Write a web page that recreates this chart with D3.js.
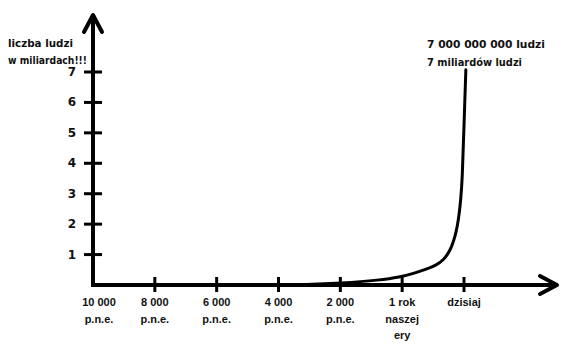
<!DOCTYPE html>
<html>
<head>
<meta charset="utf-8">
<script src="https://cdn.jsdelivr.net/npm/d3@7"></script>
<style>
  body { margin: 0; background: #fff; }
  svg { display: block; }
  .hand { font-family: "DejaVu Sans", sans-serif; font-weight: bold; fill: #111; }
  .xlab { font-family: "Liberation Sans", Arial, sans-serif; font-weight: bold; font-size: 11px; fill: #111; }
</style>
</head>
<body>
<div id="chart"></div>
<script>
// population (billions) by year
var years = [-10000, -6000, -3300, -1950, -720, -70, 360, 794, 1117, 1331, 1492, 1602, 1709, 1783, 1848, 1893, 1945, 2000, 2060];
var people = [0, 0, 0, 0.06, 0.16, 0.26, 0.38, 0.52, 0.66, 0.82, 1.04, 1.26, 1.59, 1.92, 2.36, 2.79, 3.45, 5.26, 7.07];

var xTickYears = [-10000, -8000, -6000, -4000, -2000, 0, 2000];
var xTickLabels = [
    ["10 000", "p.n.e."],
    ["8 000", "p.n.e."],
    ["6 000", "p.n.e."],
    ["4 000", "p.n.e."],
    ["2 000", "p.n.e."],
    ["1 rok", "naszej", "ery"],
    ["dzisiaj"]
];
var yTicks = [1, 2, 3, 4, 5, 6, 7];
var yTitle = ["liczba ludzi", "w miliardach!!!"];
var note = ["7 000 000 000 ludzi", "7 miliardów ludzi"];

var width = 570, height = 351;

var svg = d3.select("#chart")
    .append("svg")
    .attr("width", width)
    .attr("height", height);

var x = d3.scaleLinear().domain([-10000, 2000]).range([93, 464]);
var y = d3.scaleLinear().domain([0, 7]).range([285, 72]);

// axes (hand drawn look: thick lines + open arrow heads)
svg.append("line")
    .attr("x1", x(-10000)).attr("y1", y(0) + 2)
    .attr("x2", x(-10000)).attr("y2", 16)
    .attr("stroke", "#000").attr("stroke-width", 4);
svg.append("path")
    .attr("d", "M" + (x(-10000) - 9) + ",32 L" + x(-10000) + ",15 L" + (x(-10000) + 9) + ",32")
    .attr("fill", "none").attr("stroke", "#000").attr("stroke-width", 4)
    .attr("stroke-linecap", "round").attr("stroke-linejoin", "round");

svg.append("line")
    .attr("x1", x(-10000) - 2).attr("y1", y(0))
    .attr("x2", 556).attr("y2", y(0))
    .attr("stroke", "#000").attr("stroke-width", 4);
svg.append("path")
    .attr("d", "M540," + (y(0) - 9) + " L557," + y(0) + " L540," + (y(0) + 9))
    .attr("fill", "none").attr("stroke", "#000").attr("stroke-width", 4)
    .attr("stroke-linecap", "round").attr("stroke-linejoin", "round");

// y ticks
svg.selectAll(".ytick")
    .data(yTicks)
    .enter()
    .append("line")
    .attr("x1", 84).attr("x2", 102)
    .attr("y1", d => y(d)).attr("y2", d => y(d))
    .attr("stroke", "#000").attr("stroke-width", 3);

svg.selectAll(".ylab")
    .data(yTicks)
    .enter()
    .append("text")
    .attr("class", "hand")
    .attr("font-size", 12)
    .attr("x", 76)
    .attr("y", d => y(d) + 4)
    .attr("text-anchor", "end")
    .text(d => d);

// x ticks
svg.selectAll(".xtick")
    .data(xTickYears.slice(1))
    .enter()
    .append("line")
    .attr("x1", d => x(d)).attr("x2", d => x(d))
    .attr("y1", y(0) - 8).attr("y2", y(0) + 7)
    .attr("stroke", "#000").attr("stroke-width", 3);

var xl = svg.selectAll(".xlab")
    .data(xTickYears)
    .enter()
    .append("text")
    .attr("class", "xlab")
    .attr("text-anchor", "middle")
    .attr("x", (d, i) => x(d) + (i === 0 ? 6 : 0))
    .attr("y", 306);

xl.selectAll("tspan")
    .data((d, i) => xTickLabels[i])
    .enter()
    .append("tspan")
    .attr("x", function () { return this.parentNode.getAttribute("x"); })
    .attr("dy", (d, j) => j === 0 ? 0 : 16.5)
    .text(d => d);

// y title
var titleWidths = [65, 79];
svg.selectAll(".ytitle")
    .data(yTitle)
    .enter()
    .append("text")
    .attr("class", "hand")
    .attr("font-size", 10.5)
    .attr("x", 8)
    .attr("y", (d, i) => 47 + i * 17)
    .attr("textLength", (d, i) => titleWidths[i])
    .attr("lengthAdjust", "spacingAndGlyphs")
    .text(d => d);

// note at the top of the curve
var noteWidths = [118, 95];
svg.selectAll(".note")
    .data(note)
    .enter()
    .append("text")
    .attr("class", "hand")
    .attr("font-size", 11)
    .attr("x", 427)
    .attr("y", (d, i) => 48 + i * 18)
    .attr("textLength", (d, i) => noteWidths[i])
    .attr("lengthAdjust", "spacingAndGlyphs")
    .text(d => d);

// population curve
var line = d3.line()
    .x((d, i) => x(years[i]))
    .y(d => y(d))
    .curve(d3.curveBasis);

svg.append("path")
    .datum(people)
    .attr("d", line)
    .attr("fill", "none")
    .attr("stroke", "#000")
    .attr("stroke-width", 3)
    .attr("stroke-linecap", "round");
</script>
</body>
</html>
